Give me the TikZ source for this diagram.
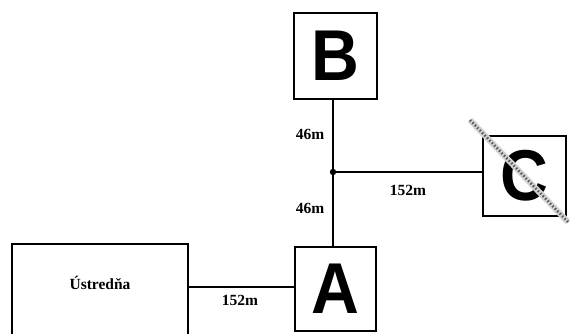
\documentclass[tikz,border=0pt]{standalone}
\usepackage{fontspec}
\setmainfont{Liberation Serif}
\newfontfamily\letterfont{Liberation Sans}
\begin{document}
\begin{tikzpicture}[x=1pt,y=-1pt,
  box/.style={draw=black, line width=1.8pt, rectangle, inner sep=0pt, fill=white},
  letterbox/.style={box, font=\letterfont\bfseries\fontsize{72}{72}\selectfont},
  dist/.style={font=\bfseries\fontsize{15.5}{16}\selectfont, inner sep=0pt},
  wire/.style={line width=1.8pt, draw=black}]
\useasboundingbox (0,0) rectangle (572,333);
\clip (0,0) rectangle (572,333);
\fill[white] (0,0) rectangle (572,333);
% nodes
\node[box, minimum width=176pt, minimum height=104pt] (ustredna) at (100,296) {};
\node[dist] (ustrlabel) at (100,283) {Ústredňa};
\node[letterbox, minimum width=81pt, minimum height=84pt] (A) at (335.5,289) {\scalebox{0.92}[1]{A}};
\node[letterbox, minimum width=83pt, minimum height=86pt] (B) at (335.5,56) {\scalebox{0.92}[1]{B}};
\node[letterbox, minimum width=83pt, minimum height=80pt] (C) at (524.5,176) {\scalebox{0.92}[1]{C}};
\coordinate (j) at (333,172);
% connectors
\draw[wire] (A.north -| j) -- (j);
\draw[wire] (j) -- (B.south -| j);
\draw[wire] (j) -- (j -| C.west);
\draw[wire] (ustredna.east |- 0,287) -- (A.west |- 0,287);
\fill (j) circle (3.2pt);
% labels
\node[dist] (l1) at (310,134) {46m};
\node[dist] (l2) at (310,208) {46m};
\node[dist] (l3) at (408,190) {152m};
\node[dist] (l4) at (240,300) {152m};
% cross-out line over C
\coordinate (x1) at (470,120);
\coordinate (x2) at (568,222);
\draw[gray!35, line width=6pt] (x1) -- (x2);
\draw[gray!70!black, line width=2.5pt, dash pattern=on 1.5pt off 2pt] (x1) -- (x2);
\end{tikzpicture}
\end{document}
